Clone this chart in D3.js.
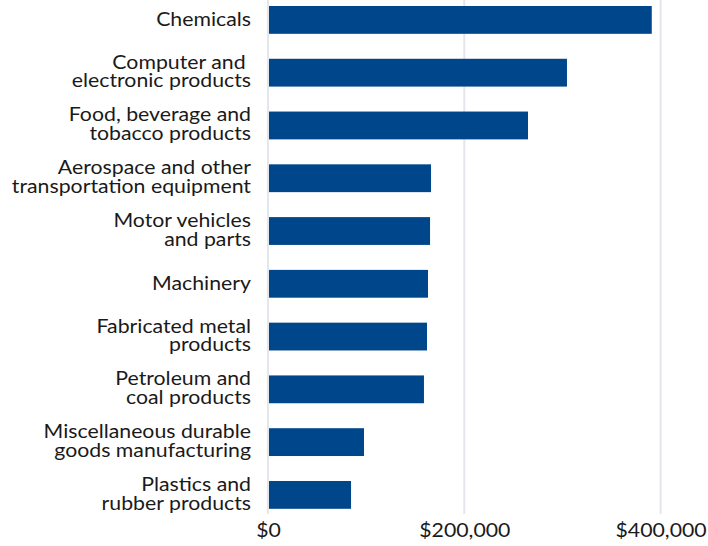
<!DOCTYPE html>
<html>
<head>
<meta charset="utf-8">
<script src="https://cdn.jsdelivr.net/npm/d3@7"></script>
<style>
  body { margin: 0; background: #fff; }
  svg text { font-family: Lato, "Open Sans", sans-serif; fill: #1a1a1a; }
</style>
</head>
<body>
<div id="chart"></div>
<script>
// industries, top to bottom (label lines split with |)
var categories = [
  "Chemicals",
  "Computer and |electronic products",
  "Food, beverage and|tobacco products",
  "Aerospace and other|transportation equipment",
  "Motor vehicles|and parts",
  "Machinery",
  "Fabricated metal|products",
  "Petroleum and|coal products",
  "Miscellaneous durable|goods manufacturing",
  "Plastics and|rubber products"
];
var values = [391000, 304600, 264900, 166100, 165100, 163000, 162000, 158900, 97800, 84600];
var tickValues = [0, 200000, 400000];

var width = 708, height = 546;
var stretch = 1.12; // text in the original is a bit wide

var svg = d3.select('#chart').append('svg')
  .attr('width', width)
  .attr('height', height);

var x = d3.scaleLinear()
  .domain([0, 400000])
  .range([268, 660.6]);

var y = d3.scaleBand()
  .domain(categories)
  .range([6, 508.8])
  .paddingInner(0.473)
  .paddingOuter(0);

// gridlines
svg.append('g').selectAll('line')
  .data(tickValues)
  .enter().append('line')
  .attr('x1', function(d) { return x(d); })
  .attr('x2', function(d) { return x(d); })
  .attr('y1', 0)
  .attr('y2', 514)
  .attr('stroke', '#e3e7eb')
  .attr('stroke-width', 2);

// bars
svg.append('g').selectAll('rect')
  .data(values)
  .enter().append('rect')
  .attr('x', x(0) + 1)
  .attr('y', function(d, i) { return y(categories[i]); })
  .attr('width', function(d) { return x(d) - x(0) - 1; })
  .attr('height', y.bandwidth())
  .attr('fill', '#00468b');

// category labels
var labels = svg.append('g').selectAll('text')
  .data(categories)
  .enter().append('text')
  .attr('text-anchor', 'end')
  .attr('font-size', 19)
  .attr('transform', function(d) {
    return 'translate(251,' + (y(d) + y.bandwidth() / 2) + ') scale(' + stretch + ',1)';
  });
labels.each(function(d) {
  var lines = d.split('|');
  var t = d3.select(this);
  lines.forEach(function(l, i) {
    t.append('tspan')
      .attr('x', 0)
      .attr('y', 6 - (lines.length - 1) * 10 + i * 18.7)
      .text(l);
  });
});

// x axis tick labels
var xAxis = d3.axisBottom(x)
  .tickValues(tickValues)
  .tickSize(0)
  .tickPadding(0)
  .tickFormat(function(d) { return '$' + d3.format(',')(d); });
var ax = svg.append('g')
  .attr('transform', 'translate(0,537)')
  .call(xAxis);
ax.select('.domain').remove();
ax.selectAll('text')
  .attr('font-size', 19)
  .attr('y', 0)
  .attr('dy', 0)
  .attr('transform', 'scale(' + stretch + ',1)')
  .style('font-family', 'Lato, sans-serif')
  .attr('fill', '#1a1a1a');
</script>
</body>
</html>
